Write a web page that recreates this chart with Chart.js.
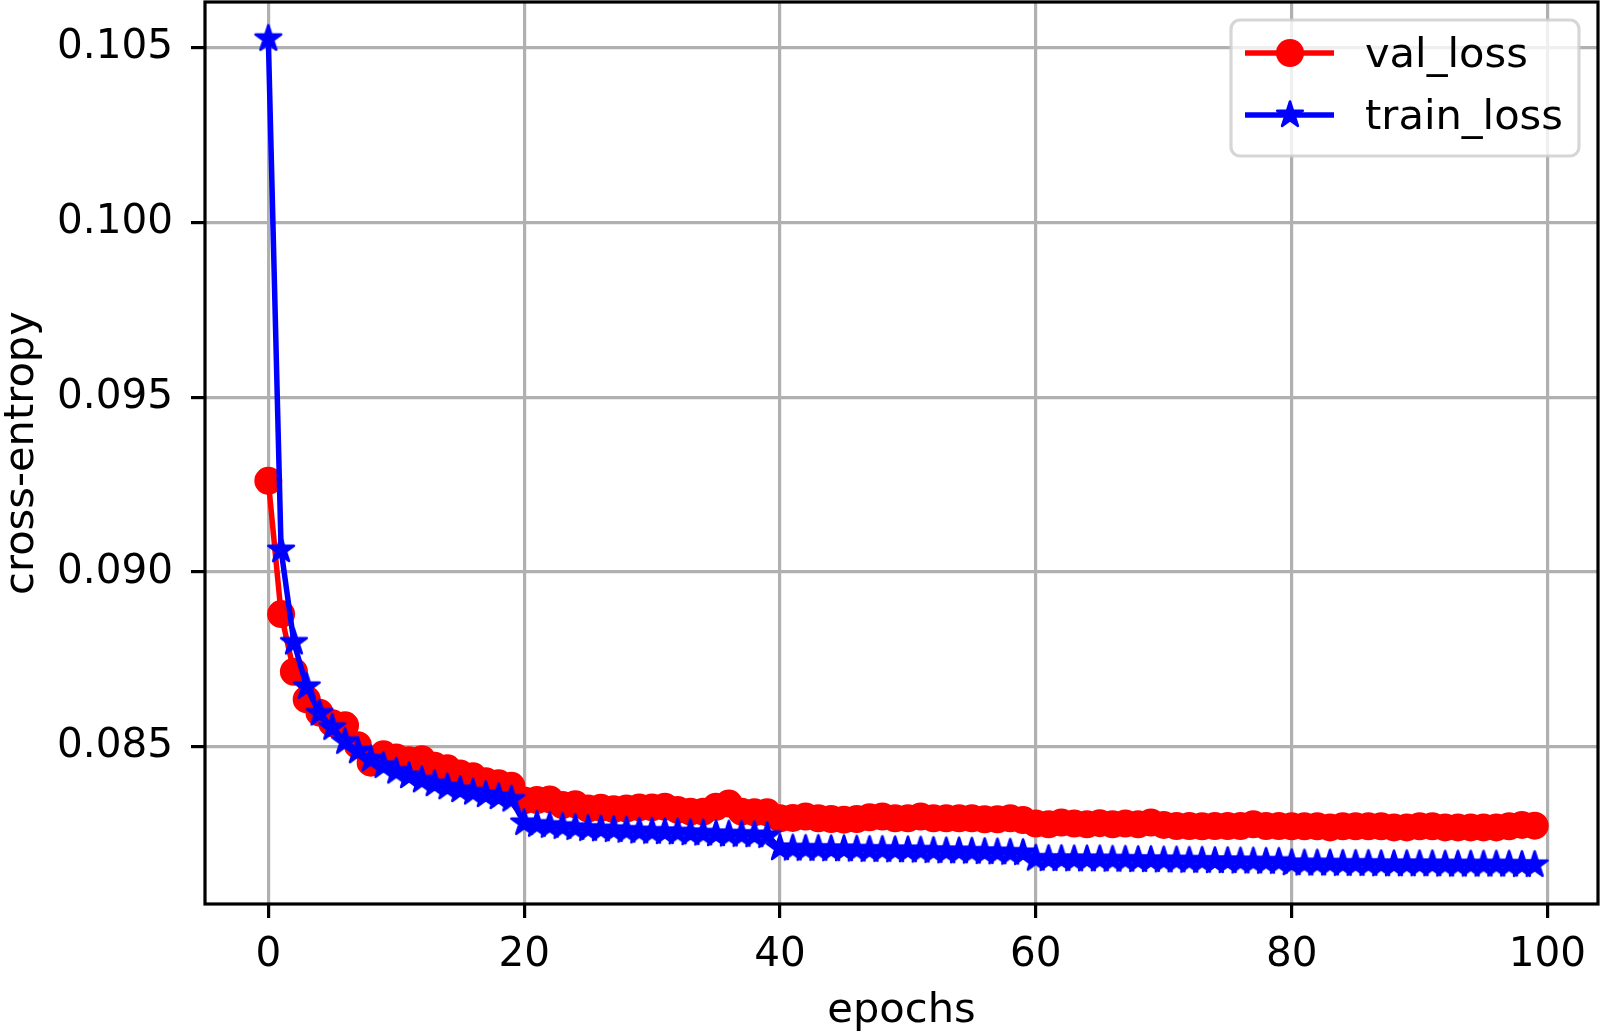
<!DOCTYPE html>
<html lang="en">
<head>
    <meta charset="UTF-8">
    <title>Loss curves</title>
    <script src="https://cdn.jsdelivr.net/npm/chart.js"></script>
    <style>
        html, body { margin: 0; padding: 0; background: #fff; }
        #wrap { width: 1600px; height: 1031px; position: relative; }
    </style>
</head>
<body>
<div id="wrap"><canvas id="lossChart"></canvas></div>

<script>
    // values
    const valLoss = [
        0.09261, 0.08880, 0.08715, 0.08636, 0.08598, 0.08568, 0.08562, 0.08505, 0.08455, 0.08479,
        0.08470, 0.08462, 0.08465, 0.08446, 0.08439, 0.08424, 0.08416, 0.08402, 0.08396, 0.08389,
        0.08347, 0.08348, 0.08350, 0.08334, 0.08336, 0.08324, 0.08326, 0.08322, 0.08324, 0.08327,
        0.08327, 0.08329, 0.08320, 0.08315, 0.08315, 0.08329, 0.08338, 0.08315, 0.08313, 0.08313,
        0.08296, 0.08297, 0.08301, 0.08296, 0.08294, 0.08292, 0.08294, 0.08299, 0.08301, 0.08296,
        0.08296, 0.08301, 0.08296, 0.08296, 0.08296, 0.08296, 0.08293, 0.08293, 0.08296, 0.08291,
        0.08281, 0.08279, 0.08284, 0.08281, 0.08279, 0.08282, 0.08279, 0.08281, 0.08279, 0.08284,
        0.08277, 0.08274, 0.08274, 0.08273, 0.08274, 0.08274, 0.08274, 0.08279, 0.08274, 0.08274,
        0.08273, 0.08273, 0.08273, 0.08270, 0.08273, 0.08273, 0.08273, 0.08273, 0.08270, 0.08270,
        0.08273, 0.08273, 0.08270, 0.08270, 0.08270, 0.08270, 0.08270, 0.08273, 0.08277, 0.08275
    ];
    const trainLoss = [
        0.10525, 0.09063, 0.08799, 0.08672, 0.08596, 0.08555, 0.08515, 0.08488, 0.08465, 0.08446,
        0.08430, 0.08417, 0.08405, 0.08394, 0.08385, 0.08377, 0.08370, 0.08363, 0.08357, 0.08350,
        0.08283, 0.08278, 0.08275, 0.08272, 0.08269, 0.08266, 0.08265, 0.08263, 0.08261, 0.08259,
        0.08258, 0.08257, 0.08256, 0.08254, 0.08253, 0.08251, 0.08250, 0.08249, 0.08248, 0.08246,
        0.08211, 0.08210, 0.08209, 0.08209, 0.08208, 0.08208, 0.08207, 0.08206, 0.08206, 0.08205,
        0.08205, 0.08204, 0.08203, 0.08202, 0.08202, 0.08201, 0.08200, 0.08199, 0.08198, 0.08197,
        0.08181, 0.08180, 0.08180, 0.08179, 0.08179, 0.08179, 0.08178, 0.08178, 0.08177, 0.08177,
        0.08176, 0.08176, 0.08175, 0.08175, 0.08174, 0.08174, 0.08173, 0.08173, 0.08172, 0.08172,
        0.08168, 0.08167, 0.08167, 0.08167, 0.08166, 0.08166, 0.08166, 0.08165, 0.08165, 0.08165,
        0.08165, 0.08165, 0.08164, 0.08164, 0.08164, 0.08164, 0.08164, 0.08164, 0.08163, 0.08163
    ];
    const xTicks = [0, 20, 40, 60, 80, 100];
    const yTicks = [0.085, 0.090, 0.095, 0.100, 0.105];
    const seriesNames = ['val_loss', 'train_loss'];

    const epochs = valLoss.map((v, i) => i);
    const FONT = 'DejaVu Sans';
    Chart.defaults.font.family = FONT;
    Chart.defaults.color = '#000';

    // filled five point star, like matplotlib's '*' marker
    function makeStar(color) {
        const c = document.createElement('canvas');
        c.width = 36; c.height = 36;
        const g = c.getContext('2d');
        const R = 13.5, r = R * 0.381966;
        g.beginPath();
        for (let i = 0; i < 10; i++) {
            const rad = i % 2 ? r : R;
            const a = -Math.PI / 2 + i * Math.PI / 5;
            const px = 18 + rad * Math.cos(a), py = 18 + rad * Math.sin(a);
            if (i === 0) g.moveTo(px, py); else g.lineTo(px, py);
        }
        g.closePath();
        g.fillStyle = color;
        g.fill();
        g.lineJoin = 'round';
        g.lineWidth = 2.5;
        g.strokeStyle = color;
        g.stroke();
        return c;
    }
    const star = makeStar('#0000ff');

    // no extra room for edge labels: the plot box is fixed like matplotlib's
    function noPad(scale) {
        scale.paddingLeft = 0;
        scale.paddingRight = 0;
        scale.paddingTop = 0;
        scale.paddingBottom = 0;
    }

    // matplotlib-ish frame and legend drawn on top
    const mplFrame = {
        id: 'mplFrame',
        afterDraw(chart) {
            const {ctx, chartArea: a} = chart;
            ctx.save();
            ctx.strokeStyle = '#000';
            ctx.lineWidth = 3.2;
            ctx.strokeRect(a.left, a.top, a.right - a.left, a.bottom - a.top);

            // legend box
            const bx = 1231, by = 20, bw = 348, bh = 136, rr = 9;
            ctx.beginPath();
            ctx.roundRect(bx, by, bw, bh, rr);
            ctx.fillStyle = 'rgba(255,255,255,0.8)';
            ctx.fill();
            ctx.lineWidth = 3.2;
            ctx.strokeStyle = 'rgba(204,204,204,0.8)';
            ctx.stroke();

            const rows = [
                {y: 53, color: '#ff0000', label: seriesNames[0], marker: 'circle'},
                {y: 115, color: '#0000ff', label: seriesNames[1], marker: 'star'}
            ];
            rows.forEach(row => {
                ctx.beginPath();
                ctx.moveTo(1245, row.y);
                ctx.lineTo(1334, row.y);
                ctx.strokeStyle = row.color;
                ctx.lineWidth = 5.5;
                ctx.stroke();
                if (row.marker === 'circle') {
                    ctx.beginPath();
                    ctx.arc(1290, row.y, 14, 0, Math.PI * 2);
                    ctx.fillStyle = row.color;
                    ctx.fill();
                } else {
                    ctx.drawImage(star, 1290 - 18, row.y - 18);
                }
                ctx.fillStyle = '#000';
                ctx.font = '41.6px "' + FONT + '"';
                ctx.textAlign = 'left';
                ctx.textBaseline = 'alphabetic';
                ctx.fillText(row.label, 1365, row.y + 14);
            });
            ctx.restore();
        }
    };

    new Chart(document.getElementById('lossChart').getContext('2d'), {
        type: 'line',
        data: {
            datasets: [{
                label: seriesNames[0],
                data: epochs.map((e, i) => ({x: e, y: valLoss[i]})),
                borderColor: '#ff0000',
                backgroundColor: '#ff0000',
                borderWidth: 5.5,
                pointStyle: 'circle',
                pointRadius: 12,
                pointBorderWidth: 4,
                pointBackgroundColor: '#ff0000',
                pointBorderColor: '#ff0000',
                order: 1
            }, {
                label: seriesNames[1],
                data: epochs.map((e, i) => ({x: e, y: trainLoss[i]})),
                borderColor: '#0000ff',
                backgroundColor: '#0000ff',
                borderWidth: 5.5,
                pointStyle: star,
                pointRadius: 14,
                order: 0
            }]
        },
        options: {
            responsive: true,
            maintainAspectRatio: false,
            animation: false,
            layout: { autoPadding: false, padding: { top: 2, right: 2, left: 0, bottom: 0 } },
            elements: { line: { tension: 0 } },
            plugins: {
                legend: { display: false },
                tooltip: { enabled: false }
            },
            scales: {
                x: {
                    type: 'linear',
                    min: -4.95,
                    max: 103.95,
                    afterBuildTicks: scale => { scale.ticks = xTicks.map(v => ({value: v})); },
                    afterFit: scale => { scale.height = 127; noPad(scale); },
                    grid: { color: '#b0b0b0', lineWidth: 3.2, tickLength: 14, tickColor: '#000', tickWidth: 3.2 },
                    border: { display: false },
                    ticks: { font: { size: 40.5 }, padding: 13, color: '#000', maxRotation: 0, autoSkip: false },
                    title: { display: true, text: 'epochs', font: { size: 41.6, lineHeight: 0.8 }, padding: { top: 0, bottom: 3 }, color: '#000' }
                },
                y: {
                    type: 'linear',
                    min: 0.08051,
                    max: 0.1063,
                    afterBuildTicks: scale => { scale.ticks = yTicks.map(v => ({value: v})); },
                    afterFit: scale => { scale.width = 205; noPad(scale); },
                    grid: { color: '#b0b0b0', lineWidth: 3.2, tickLength: 14, tickColor: '#000', tickWidth: 3.2 },
                    border: { display: false },
                    ticks: { font: { size: 40.5 }, padding: 18, color: '#000', callback: v => v.toFixed(3) },
                    title: { display: true, text: 'cross-entropy', font: { size: 41.6, lineHeight: 0.9 }, padding: { top: 3, bottom: 0 }, color: '#000' }
                }
            }
        },
        plugins: [mplFrame]
    });
</script>
</body>
</html>
